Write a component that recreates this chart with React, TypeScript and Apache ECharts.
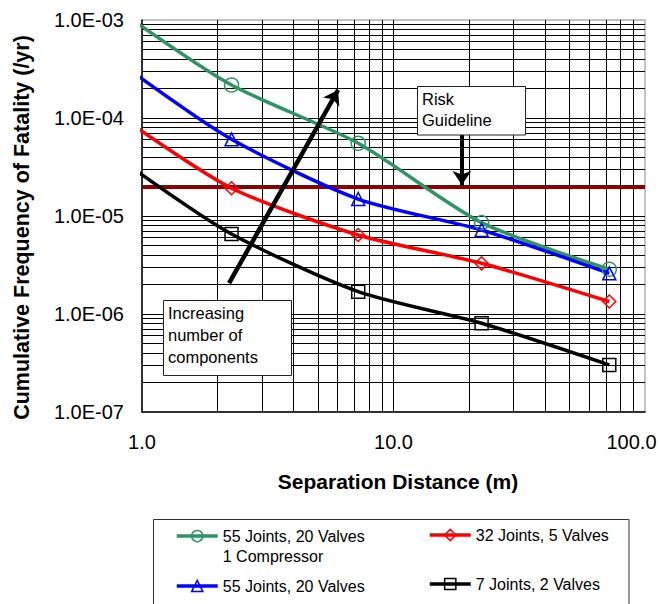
import React, { useEffect, useRef } from 'react';
import * as echarts from 'echarts';

// Separation distance (m); the first point sits just left of the axis start
const distances = [0.94, 2.27, 7.24, 22.4, 72.1];

const seriesNames = [
  '55 Joints, 20 Valves 1 Compressor',
  '55 Joints, 20 Valves',
  '32 Joints, 5 Valves',
  '7 Joints, 2 Valves',
];
const greenValues = [9.6e-4, 2.17e-4, 5.52e-5, 8.55e-6, 2.86e-6];
const blueValues = [2.81e-4, 6.06e-5, 1.49e-5, 7.2e-6, 2.6e-6];
const redValues = [8.15e-5, 1.92e-5, 6.4e-6, 3.29e-6, 1.34e-6];
const blackValues = [2.95e-5, 6.55e-6, 1.69e-6, 8.04e-7, 3.02e-7];

const riskGuideline = 2e-5;

const xTickLabels = ['1.0', '10.0', '100.0'];
const yTickLabels = ['1.0E-07', '1.0E-06', '1.0E-05', '1.0E-04', '1.0E-03'];

const xMin = 1;
const xMax = 100;
const yMin = 1e-7;
const yMax = 1e-3;
const xDecades = [1, 10];
const yDecades = [1e-7, 1e-6, 1e-5, 1e-4];
const multiples = [1, 2, 3, 4, 5, 6, 7, 8, 9];

// annotation arrows (data coords)
const compArrow = [[2.22, 2.07e-6], [6.02, 1.93e-4]];
const riskArrow = [[18.7, 6.7e-5], [18.7, 2.07e-5]];

const FONT = '"Liberation Sans", Arial, Helvetica, sans-serif';

const colors = ['#2E9466', '#0000FF', '#FF0000', '#000000'];
const symbols = ['circle', 'triangle', 'diamond', 'rect'];
const allValues = [greenValues, blueValues, redValues, blackValues];

export default function App() {
  const ref = useRef<HTMLDivElement>(null);

  useEffect(() => {
    if (!ref.current) return;
    const chart = echarts.init(ref.current, null, { renderer: 'svg' });

    const xGrid: number[] = [];
    xDecades.forEach((d) => multiples.forEach((m) => { if (!(d === 1 && m === 1)) xGrid.push(d * m); }));
    const yGrid: number[] = [];
    yDecades.forEach((d) => multiples.forEach((m) => { if (!(d === 1e-7 && m === 1)) yGrid.push(d * m); }));

    const lineSeries = allValues.map((vals, si) => ({
      type: 'line',
      name: seriesNames[si],
      z: 3,
      smooth: 0.25,
      clip: false,
      symbol: symbols[si],
      symbolSize: si === 0 ? 14 : 13,
      showAllSymbol: true,
      lineStyle: { color: colors[si], width: 3.5 },
      itemStyle: { color: 'rgba(255,255,255,0)', borderColor: colors[si], borderWidth: 1.5 },
      emphasis: { disabled: true },
      data: distances.map((d, i) =>
        i === 0 ? { value: [d, vals[i]], symbol: 'none' } : [d, vals[i]]
      ),
    }));

    const legendPos = [
      { left: 175, top: 505 },
      { left: 175, top: 576 },
      { left: 428, top: 525 },
      { left: 428, top: 574 },
    ];

    const legends = seriesNames.map((n, si) => ({
      data: [n],
      left: legendPos[si].left,
      top: legendPos[si].top,
      padding: 0,
      itemWidth: 41,
      itemHeight: 14,
      selectedMode: false,
      formatter: si === 0 ? () => ' \n55 Joints, 20 Valves\n1 Compressor' : undefined,
      lineStyle: { color: colors[si], width: 3.5 },
      itemStyle: { color: 'rgba(255,255,255,0)', borderColor: colors[si], borderWidth: 1.5 },
      textStyle: { fontFamily: FONT, fontSize: 16, color: '#000', lineHeight: si === 0 ? 20.7 : 20 },
    }));

    const gridLines = [
      ...xGrid.map((v) => [{ coord: [v, yMin] }, { coord: [v, yMax] }]),
      ...yGrid.map((v) => [{ coord: [xMin, v] }, { coord: [xMax, v] }]),
    ];

    chart.setOption({
      animation: false,
      backgroundColor: '#fff',
      grid: { left: 142, top: 20, width: 503, height: 392, show: true, borderColor: '#888', borderWidth: 1, backgroundColor: 'transparent' },
      xAxis: {
        type: 'log',
        logBase: 10,
        min: xMin,
        max: xMax,
        name: 'Separation Distance (m)',
        nameLocation: 'middle',
        nameGap: 59,
        nameTextStyle: { fontFamily: FONT, fontSize: 21, fontWeight: 'bold', color: '#000', padding: [0, 0, 0, 9] },
        axisLine: { show: true, lineStyle: { color: '#000', width: 1.5 } },
        axisTick: { show: false },
        splitLine: { show: false },
        axisLabel: {
          margin: 20,
          fontFamily: FONT,
          fontSize: 20,
          color: '#000',
          formatter: (v: number) => {
            const idx = Math.round(Math.log10(v));
            const t = xTickLabels[idx] ?? '';
            return idx === 2 ? '{r|' + t + '}' : t;
          },
          rich: { r: { fontFamily: FONT, fontSize: 20, color: '#000', padding: [0, 27, 0, 0] } },
        },
      },
      yAxis: {
        type: 'log',
        logBase: 10,
        min: yMin,
        max: yMax,
        name: 'Cumulative Frequency of Fatality (/yr)',
        nameLocation: 'middle',
        nameGap: 109,
        nameTextStyle: { fontFamily: FONT, fontSize: 21.5, fontWeight: 'bold', color: '#000', padding: [0, 23, 0, 0] },
        axisLine: { show: true, lineStyle: { color: '#000', width: 1.5 } },
        axisTick: { show: false },
        splitLine: { show: false },
        axisLabel: {
          margin: 18,
          fontFamily: FONT,
          fontSize: 20,
          color: '#000',
          formatter: (v: number) => yTickLabels[Math.round(Math.log10(v)) + 7] ?? '',
        },
      },
      legend: legends,
      series: [
        {
          type: 'line',
          name: 'grid',
          data: [],
          silent: true,
          markLine: {
            z: 1,
            silent: true,
            symbol: ['none', 'none'],
            label: { show: false },
            emphasis: { disabled: true },
            lineStyle: { color: '#000', width: 1, type: 'solid' },
            data: gridLines,
          },
        },
        {
          type: 'line',
          name: 'guideline',
          data: [],
          silent: true,
          markLine: {
            z: 2,
            silent: true,
            symbol: ['none', 'none'],
            label: { show: false },
            emphasis: { disabled: true },
            lineStyle: { color: '#8B0000', width: 4, type: 'solid' },
            data: [[{ coord: [xMin, riskGuideline] }, { coord: [xMax, riskGuideline] }]],
          },
        },
        ...lineSeries,
        {
          type: 'line',
          name: 'arrows',
          data: [],
          silent: true,
          markLine: {
            z: 6,
            silent: true,
            symbol: ['none', 'arrow'],
            symbolSize: 14,
            label: { show: false },
            emphasis: { disabled: true },
            lineStyle: { color: '#000', width: 4.5, type: 'solid' },
            data: [
              [{ coord: compArrow[0] }, { coord: compArrow[1] }],
              [{ coord: riskArrow[0], lineStyle: { width: 4 } }, { coord: riskArrow[1] }],
            ],
          },
        },
      ],
      graphic: [
        {
          type: 'rect', z: 20,
          shape: { x: 417.5, y: 86.5, width: 108, height: 48.5 },
          style: { fill: '#fff', stroke: '#222', lineWidth: 1 },
        },
        {
          type: 'text', z: 21, x: 422, y: 88,
          style: { text: 'Risk\nGuideline', fontFamily: FONT, fontSize: 16.5, lineHeight: 21, fill: '#000' },
        },
        {
          type: 'rect', z: 20,
          shape: { x: 163.5, y: 300.5, width: 128, height: 75 },
          style: { fill: '#fff', stroke: '#222', lineWidth: 1 },
        },
        {
          type: 'text', z: 21, x: 168, y: 301.5,
          style: { text: 'Increasing\nnumber of\ncomponents', fontFamily: FONT, fontSize: 16.5, lineHeight: 22.3, fill: '#000' },
        },
        {
          type: 'rect', z: 0,
          shape: { x: 153.5, y: 519.5, width: 475.5, height: 100 },
          style: { fill: 'none', stroke: '#333', lineWidth: 1 },
        },
      ],
    });

    return () => chart.dispose();
  }, []);

  return (
    <div
      ref={ref}
      style={{ position: 'fixed', left: 0, top: 0, width: 660, height: 604, background: '#fff' }}
    />
  );
}
